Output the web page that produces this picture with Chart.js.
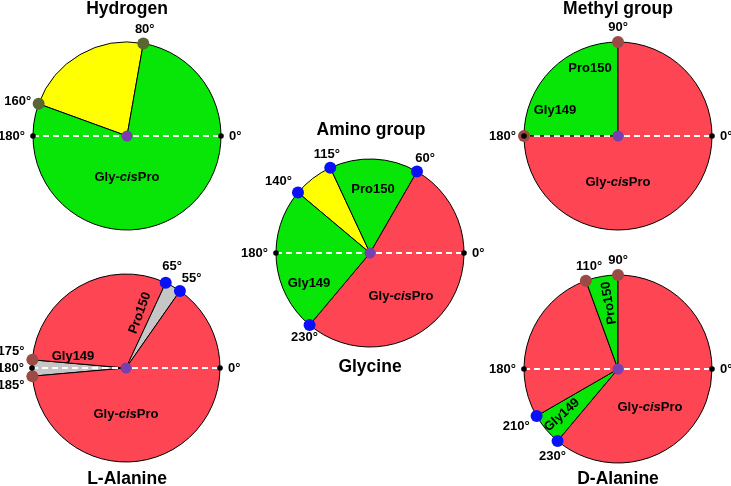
<!DOCTYPE html>
<html>
<head>
<meta charset="utf-8">
<script src="https://cdn.jsdelivr.net/npm/chart.js@4.4.0/dist/chart.umd.min.js"></script>
<style>
  body { margin: 0; background: #fff; }
  #wrap { position: relative; width: 731px; height: 486px; }
  #wrap canvas { position: absolute; left: 0; top: 0; }
</style>
</head>
<body>
<div id="wrap">
  <canvas id="hydrogen" width="731" height="486"></canvas>
  <canvas id="methyl" width="731" height="486"></canvas>
  <canvas id="amino" width="731" height="486"></canvas>
  <canvas id="lala" width="731" height="486"></canvas>
  <canvas id="dala" width="731" height="486"></canvas>
</div>
<script>
// boundary angles in degrees (0° = right, counter-clockwise), listed clockwise
const hydrogenAngles = [160, 80];
const hydrogenSlices = ['', 'Gly-cisPro'];

const methylAngles = [180, 90];
const methylSlices = ['Pro150 / Gly149', 'Gly-cisPro'];

const aminoAngles = [140, 115, 60, 230];
const aminoSlices = ['', 'Pro150', 'Gly-cisPro', 'Gly149'];

const lalaAngles = [185, 175, 65, 55];
const lalaSlices = ['Gly149', 'Gly-cisPro', 'Pro150', 'Gly-cisPro'];

const dalaAngles = [230, 210, 110, 90];
const dalaSlices = ['Gly149', 'Gly-cisPro', 'Pro150', 'Gly-cisPro'];

const GREEN = '#08e608', YELLOW = '#ffff00', RED = '#fd4553', GRAY = '#c6c6c6';
const OLIVE = '#5a6532', BROWN = '#9b4a45', BLUE = '#0a10f5';
const FONT = '"Liberation Sans", Arial, sans-serif';
const R = 94;

// slice widths from consecutive boundaries (going clockwise)
function sliceSizes(angles) {
    return angles.map((a, i) => {
        const next = angles[(i + 1) % angles.length];
        const d = (a - next + 360) % 360;
        return d === 0 ? 360 : d;
    });
}

function richText(ctx, text, x, y) {
    const parts = text.split(/(cis)/).filter(p => p);
    const fontOf = p => (p === 'cis' ? 'italic bold 13px ' : 'bold 13px ') + FONT;
    let total = 0;
    parts.forEach(p => { ctx.font = fontOf(p); total += ctx.measureText(p).width; });
    let px = x - total / 2;
    ctx.textAlign = 'left';
    parts.forEach(p => {
        ctx.font = fontOf(p);
        ctx.fillText(p, px, y);
        px += ctx.measureText(p).width;
    });
}

function dot(ctx, x, y, r, color) {
    ctx.fillStyle = color;
    ctx.beginPath();
    ctx.arc(x, y, r, 0, Math.PI * 2);
    ctx.fill();
}

const pieNotes = {
    id: 'pieNotes',
    afterDatasetsDraw(chart, args, opts) {
        const ctx = chart.ctx;
        const arcs = chart.getDatasetMeta(0).data;
        const cx = arcs[0].x, cy = arcs[0].y, r = arcs[0].outerRadius;
        ctx.save();

        // dashed 180°-0° axis
        ctx.strokeStyle = '#fff';
        ctx.lineWidth = 2;
        ctx.setLineDash([6, 4]);
        ctx.beginPath();
        ctx.moveTo(cx - r, cy);
        ctx.lineTo(cx + r, cy);
        ctx.stroke();
        ctx.setLineDash([]);

        // boundary markers
        arcs.forEach((arc, i) => {
            const a = arc.startAngle;
            dot(ctx, cx + r * Math.cos(a), cy + r * Math.sin(a), 6, opts.marks[i]);
        });
        dot(ctx, cx - r, cy, 2.8, '#000');
        dot(ctx, cx + r, cy, 2.8, '#000');
        dot(ctx, cx, cy, 5.5, '#7a3fae');

        // degree labels
        ctx.fillStyle = '#000';
        ctx.font = 'bold 13px ' + FONT;
        const nudge = opts.nudge || {};
        const labels = arcs.map((arc, i) => ({ a: arc.startAngle, text: opts.angles[i] + '°', n: nudge[opts.angles[i]] }));
        if (!opts.angles.includes(180)) labels.push({ a: Math.PI, text: '180°' });
        if (!opts.angles.includes(0)) labels.push({ a: 0, text: '0°' });
        labels.forEach(l => {
            const c = Math.cos(l.a), s = -Math.sin(l.a);
            const n = l.n || {};
            const x = cx + (r + 8) * c + (n.dx || 0), y = cy - (r + 8) * s + (n.dy || 0);
            ctx.textAlign = c > 0.7 ? 'left' : (c < -0.7 ? 'right' : 'center');
            ctx.textBaseline = s > 0.35 ? 'bottom' : (s < -0.35 ? 'top' : 'middle');
            ctx.fillText(l.text, x, y);
        });

        // group names inside the pie
        ctx.textBaseline = 'middle';
        opts.inner.forEach(t => {
            ctx.save();
            ctx.translate(cx + t.dx, cy + t.dy);
            ctx.rotate((t.rot || 0) * Math.PI / 180);
            richText(ctx, t.text, 0, 0);
            ctx.restore();
        });

        // titles
        ctx.font = 'bold 17.5px ' + FONT;
        ctx.textAlign = 'center';
        ctx.textBaseline = 'alphabetic';
        opts.titles.forEach(t => ctx.fillText(t.text, t.x, t.y));
        ctx.restore();
    }
};

function makePie(id, center, angles, slices, colors, notes) {
    const [cx, cy] = center;
    new Chart(document.getElementById(id), {
        type: 'pie',
        data: {
            labels: slices,
            datasets: [{
                data: sliceSizes(angles),
                backgroundColor: colors,
                borderColor: '#000',
                borderWidth: 1
            }]
        },
        options: {
            responsive: false,
            animation: false,
            events: [],
            rotation: 90 - angles[0],
            radius: R,
            layout: { padding: { left: cx - 100, top: cy - 100, right: 731 - cx - 100, bottom: 486 - cy - 100 } },
            plugins: {
                legend: { display: false },
                tooltip: { enabled: false },
                pieNotes: Object.assign({ angles: angles }, notes)
            }
        },
        plugins: [pieNotes]
    });
}

makePie('hydrogen', [127, 136], hydrogenAngles, hydrogenSlices, [YELLOW, GREEN], {
    marks: [OLIVE, OLIVE],
    inner: [{ text: 'Gly-cisPro', dx: 0, dy: 41 }],
    titles: [{ text: 'Hydrogen', x: 127, y: 14 }]
});

makePie('methyl', [618, 136], methylAngles, methylSlices, [GREEN, RED], {
    marks: [BROWN, BROWN],
    inner: [
        { text: 'Pro150', dx: -28, dy: -68 },
        { text: 'Gly149', dx: -63, dy: -26 },
        { text: 'Gly-cisPro', dx: 0, dy: 46 }
    ],
    titles: [{ text: 'Methyl group', x: 618, y: 14 }]
});

makePie('amino', [370, 253], aminoAngles, aminoSlices, [YELLOW, GREEN, RED, GREEN], {
    marks: [BLUE, BLUE, BLUE, BLUE],
    nudge: { 60: { dx: 4 } },
    inner: [
        { text: 'Pro150', dx: 3, dy: -64 },
        { text: 'Gly149', dx: -61, dy: 30 },
        { text: 'Gly-cisPro', dx: 31, dy: 43 }
    ],
    titles: [{ text: 'Amino group', x: 371, y: 135 }, { text: 'Glycine', x: 370, y: 372 }]
});

makePie('lala', [126, 368], lalaAngles, lalaSlices, [GRAY, RED, GRAY, RED], {
    marks: [BROWN, BROWN, BLUE, BLUE],
    nudge: { 175: { dy: -8 }, 185: { dy: 9 }, 55: { dx: 7 }, 65: { dx: 3, dy: -3 } },
    inner: [
        { text: 'Pro150', dx: 14, dy: -55, rot: -70 },
        { text: 'Gly149', dx: -53, dy: -12 },
        { text: 'Gly-cisPro', dx: 0, dy: 46 }
    ],
    titles: [{ text: 'L-Alanine', x: 127, y: 484 }]
});

makePie('dala', [618, 369], dalaAngles, dalaSlices, [GREEN, RED, GREEN, RED], {
    marks: [BLUE, BLUE, BROWN, BROWN],
    nudge: { 110: { dx: 6 }, 230: { dy: 3 } },
    inner: [
        { text: 'Pro150', dx: -9, dy: -66, rot: -99 },
        { text: 'Gly149', dx: -56, dy: 46, rot: -42 },
        { text: 'Gly-cisPro', dx: 32, dy: 38 }
    ],
    titles: [{ text: 'D-Alanine', x: 618, y: 484 }]
});
</script>
</body>
</html>
